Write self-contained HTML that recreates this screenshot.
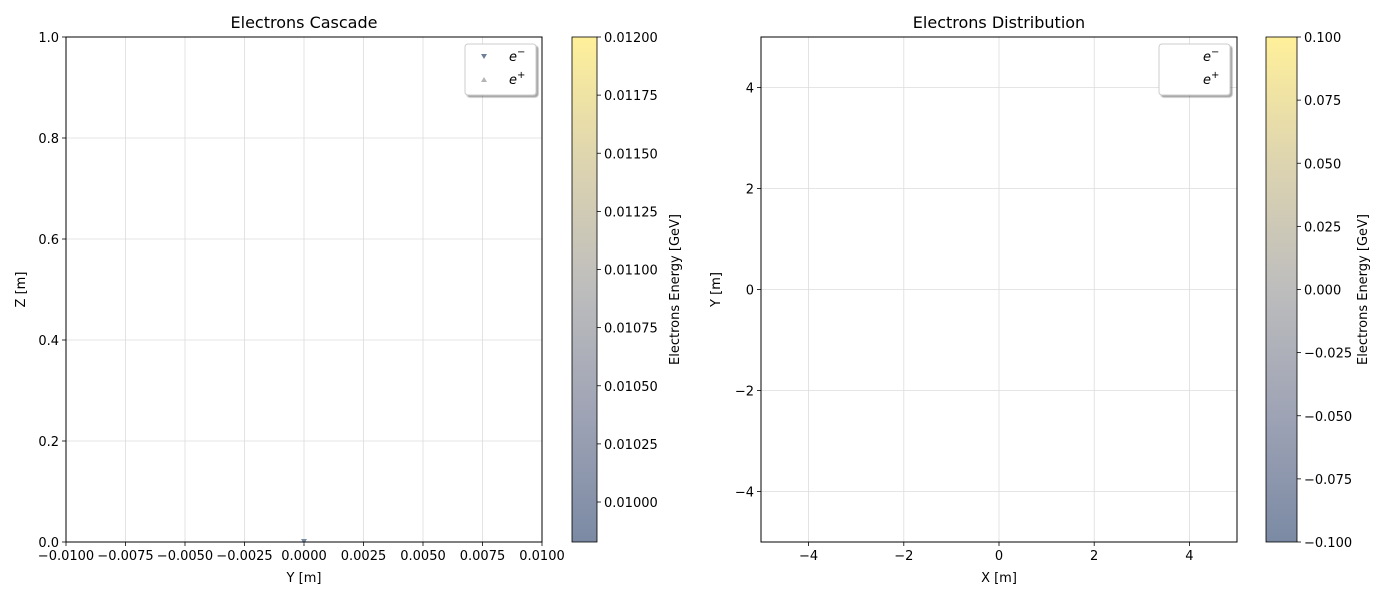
<!DOCTYPE html>
<html><head><meta charset="utf-8">
<style>
body{margin:0;background:#fff;font-family:"Liberation Sans","DejaVu Sans",sans-serif;}
svg text{font-family:"DejaVu Sans","Liberation Sans",sans-serif;font-size:13px;fill:#000;}
</style></head>
<body>
<svg id="c" width="1400" height="600" xmlns="http://www.w3.org/2000/svg">
<defs>
<linearGradient id="cv" x1="0" y1="1" x2="0" y2="0">
<stop offset="0" stop-color="#7b8aa4"/>
<stop offset="0.25" stop-color="#9ea3b5"/>
<stop offset="0.5" stop-color="#bdbdbd"/>
<stop offset="0.75" stop-color="#ddd4b0"/>
<stop offset="1" stop-color="#fff09a"/>
</linearGradient>
<filter id="sh"><feDropShadow dx="2" dy="2" stdDeviation="0.5" flood-color="#000" flood-opacity="0.35"/></filter>
</defs>
<g id="root"></g>
</svg>
<script>
// Left panel data
const leftXTicks=[-0.01,-0.0075,-0.005,-0.0025,0,0.0025,0.005,0.0075,0.01];
const leftXLabels=["−0.0100","−0.0075","−0.0050","−0.0025","0.0000","0.0025","0.0050","0.0075","0.0100"];
const leftYTicks=[0,0.2,0.4,0.6,0.8,1.0];
const leftYLabels=["0.0","0.2","0.4","0.6","0.8","1.0"];
const electronsY=[0];
const electronsZ=[0];
const electronsE=[0.0099];
const leftCbTicks=[0.01,0.01025,0.0105,0.01075,0.011,0.01125,0.0115,0.01175,0.012];
const leftCbLabels=["0.01000","0.01025","0.01050","0.01075","0.01100","0.01125","0.01150","0.01175","0.01200"];
// Right panel data
const rightXTicks=[-4,-2,0,2,4];
const rightYTicks=[-4,-2,0,2,4];
const rightCbTicks=[-0.1,-0.075,-0.05,-0.025,0,0.025,0.05,0.075,0.1];
const rightCbLabels=["−0.100","−0.075","−0.050","−0.025","0.000","0.025","0.050","0.075","0.100"];

const NS="http://www.w3.org/2000/svg";
const root=document.getElementById('root');
function el(tag,attrs,parent,text){const e=document.createElementNS(NS,tag);for(const k in attrs)e.setAttribute(k,attrs[k]);if(text!==undefined)e.textContent=text;(parent||root).appendChild(e);return e;}
function lin(d0,d1,r0,r1){return v=>r0+(v-d0)/(d1-d0)*(r1-r0);}
function fmt(v){return (v<0?"−":"")+Math.abs(v);}

function panel(o){
  const g=el('g',{});
  
  
  const sx=lin(o.xd[0],o.xd[1],o.L,o.R), sy=lin(o.yd[0],o.yd[1],o.B,o.T);
  o.xt.forEach((v,i)=>{const x=sx(v);
    const gl=el('line',{x1:x,x2:x,y1:o.T,y2:o.B,stroke:'#dcdcdc','stroke-width':0.8},g);
    
    el('line',{x1:x,x2:x,y1:o.B,y2:o.B+4,stroke:'#000','stroke-width':0.8},g);
    const t=el('text',{x:x,y:o.B+18,'text-anchor':'middle'},g,o.xl[i]);
    });
  o.yt.forEach((v,i)=>{const y=sy(v);
    const gl=el('line',{x1:o.L,x2:o.R,y1:y,y2:y,stroke:'#dcdcdc','stroke-width':0.8},g);
    
    el('line',{x1:o.L-4,x2:o.L,y1:y,y2:y,stroke:'#000','stroke-width':0.8},g);
    const t=el('text',{x:o.L-7,y:y+5,'text-anchor':'end'},g,o.yl[i]);
    });
  (o.px||[]).forEach((v,i)=>{const x=sx(v),y=sy(o.py[i]);
    const m=el('path',{d:`M${x-3},${y-3}L${x+3},${y-3}L${x},${y+2}Z`,fill:'#7b8aa4'},g);
    });
  const fr=el('rect',{x:o.L,y:o.T,width:o.R-o.L,height:o.B-o.T,fill:'none',stroke:'#000','stroke-width':1},g);
  
  const ti=el('text',{x:(o.L+o.R)/2,y:o.T-9,'text-anchor':'middle','font-size':'16'},g,o.title);
  ti.style.fontSize='16px';
  const xa=el('text',{x:(o.L+o.R)/2,y:o.B+40,'text-anchor':'middle'},g,o.xlab);
  
  const yx=o.ylabX,yy=(o.T+o.B)/2;
  const ya=el('text',{x:yx,y:yy,'text-anchor':'middle',transform:`rotate(-90 ${yx} ${yy})`},g,o.ylab);
  
  // legend
  const lg=el('g',{},g);
  
  el('rect',{x:o.legX,y:44,width:71,height:51,rx:3,fill:'#fff',stroke:'#ccc',filter:'url(#sh)'},lg);
  if(o.markers){
    el('path',{d:`M${o.legX+16},54L${o.legX+22},54L${o.legX+19},59Z`,fill:'#6e7f9a'},lg);
    el('path',{d:`M${o.legX+16},82L${o.legX+22},82L${o.legX+19},77Z`,fill:'#b5b5b5'},lg);
  }
  const l1=el('text',{x:o.legX+44,y:61,'font-style':'italic'},lg);l1.innerHTML='e<tspan dy="-6" font-size="10" font-style="normal">−</tspan>';
  
  const l2=el('text',{x:o.legX+44,y:84,'font-style':'italic'},lg);l2.innerHTML='e<tspan dy="-6" font-size="10" font-style="normal">+</tspan>';
  
  // colorbar
  const cb=el('g',{},g);
  el('rect',{x:o.cbL,y:o.T,width:o.cbW,height:o.B-o.T,fill:'url(#cv)',stroke:'#000','stroke-width':0.8},cb);
  const sc=lin(o.cbd[0],o.cbd[1],o.B,o.T);
  o.cbt.forEach((v,i)=>{const y=sc(v);
    el('line',{x1:o.cbL+o.cbW,x2:o.cbL+o.cbW+4,y1:y,y2:y,stroke:'#000','stroke-width':0.8},cb);
    const t=el('text',{x:o.cbL+o.cbW+7,y:y+5},cb,o.cbl[i]);
    });
  const cx=o.cbLabX;
  const cl=el('text',{x:cx,y:yy,'text-anchor':'middle',transform:`rotate(-90 ${cx} ${yy})`},cb,'Electrons Energy [GeV]');
  
}
panel({name:'cascade-panel',L:66,R:542,T:37,B:542,xd:[-0.01,0.01],yd:[0,1],xt:leftXTicks,xl:leftXLabels,yt:leftYTicks,yl:leftYLabels,
  px:electronsY,py:electronsZ,title:'Electrons Cascade',xlab:'Y [m]',ylab:'Z [m]',ylabX:25,legX:465,markers:true,
  cbL:572,cbW:25,cbd:[0.009828,0.012],cbt:leftCbTicks,cbl:leftCbLabels,cbLabX:679});
panel({name:'distribution-panel',L:761,R:1237,T:37,B:542,xd:[-5,5],yd:[-5,5],xt:rightXTicks,xl:rightXTicks.map(fmt),yt:rightYTicks,yl:rightYTicks.map(fmt),
  px:[],py:[],title:'Electrons Distribution',xlab:'X [m]',ylab:'Y [m]',ylabX:720,legX:1159,markers:false,
  cbL:1266,cbW:31,cbd:[-0.1,0.1],cbt:rightCbTicks,cbl:rightCbLabels,cbLabX:1367});
</script>
</body></html>
